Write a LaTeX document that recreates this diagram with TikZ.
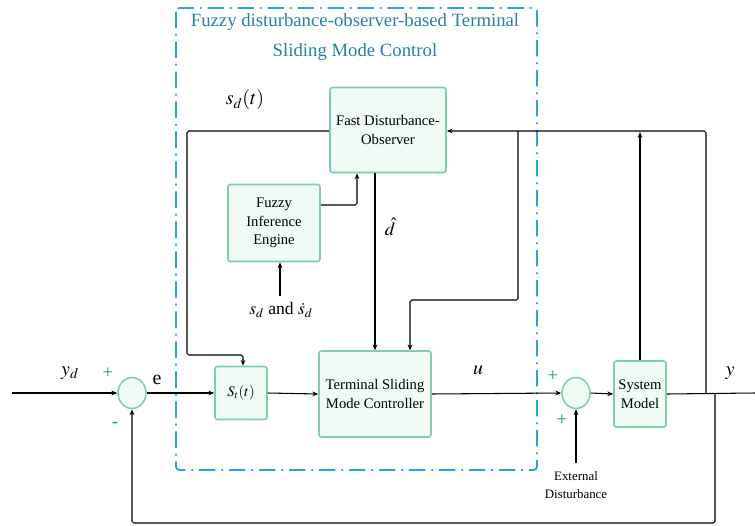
\documentclass[tikz,border=0pt]{standalone}
\usepackage{mathptmx}
\usepackage{fontspec}
\setmainfont{Liberation Serif}
\usetikzlibrary{arrows.meta,shapes.geometric}
\definecolor{boxfill}{HTML}{F1FBF6}
\definecolor{boxline}{HTML}{7DCFA8}
\definecolor{signgreen}{HTML}{10A060}
\definecolor{framecol}{HTML}{2AA4D8}
\definecolor{titlecol}{HTML}{2A7FA2}
\tikzset{
  blockbox/.style={draw=boxline, fill=boxfill, line width=1.3pt, rounded corners=2pt,
    align=center, inner sep=1pt, font=\fontsize{12.5}{16}\selectfont},
  sumnode/.style={ellipse, draw=boxline, fill=boxfill, line width=1.3pt,
    minimum width=28\pxu, minimum height=31\pxu, inner sep=0pt},
  signal/.style={line width=0.9pt, rounded corners=1.5pt},
  sign/.style={text=signgreen, font=\fontsize{16}{16}\selectfont},
}
\newlength{\pxu}
\setlength{\pxu}{0.03cm}
\begin{document}
\begin{tikzpicture}[x=0.03cm, y=-0.03cm, >={Stealth[length=5pt,width=4pt]}]
		\useasboundingbox (0,0) rectangle (755,525);
		% frame of the controller
		\draw [framecol, line width=1.6pt, rounded corners=3pt,
		  dash pattern=on 14pt off 5pt on 1.6pt off 5pt] (176,8) rectangle (537,470);
		\node [text=titlecol, align=center, font=\fontsize{16}{26}\selectfont] (title) at (355,37)
		  {Fuzzy disturbance-observer-based Terminal\\Sliding Mode Control};
		% blocks
		\node [blockbox, minimum width=116\pxu, minimum height=85\pxu] (fdo) at (388,130) {Fast Disturbance-\\Observer};
		\node [blockbox, minimum width=92\pxu, minimum height=77\pxu] (fie) at (274,223) {Fuzzy\\Inference\\Engine};
		\node [blockbox, minimum width=52\pxu, minimum height=53\pxu] (st) at (241,393) {$S_t(t)$};
		\node [blockbox, minimum width=112\pxu, minimum height=86\pxu] (tsmc) at (375,394) {Terminal Sliding\\Mode Controller};
		\node [blockbox, minimum width=52\pxu, minimum height=66\pxu] (sys) at (640,394) {System\\Model};
		\node [sumnode] (sum1) at (132,393) {};
		\node [sumnode] (sum2) at (576,393) {};
		% coordinates
		\coordinate (in) at (12,393);
		\coordinate (out) at (755,393);
		\coordinate (ya) at (706,393);
		\coordinate (yb) at (715,393);
		\coordinate (fb) at (518,131);
		\coordinate (ext) at (576,463);
		\coordinate (sds) at (280,296);
		% main path
		\draw [signal, ->] (in) to (sum1.west);
		\draw [signal, ->] (sum1.east) to (st.west);
		\draw [signal, ->] (st.east) to (tsmc.west);
		\draw [signal, ->] (tsmc.east) to (sum2.west);
		\draw [signal, ->] (sum2.east) to (sys.west);
		\draw [signal] (sys.east) to (out);
		% feedback paths
		\draw [signal, ->] (ya) |- (fdo.east |- 0,131);
		\draw [signal, ->] (sys.north) to (640,132);
		\draw [signal, ->] (fb) |- (410,300) to (tsmc.north -| 410,0);
		\draw [signal, ->] (fdo.west |- 0,131) -| (187,355) -| (st.north -| 243,0);
		\draw [signal, ->] (fie.east |- 0,205) -| (fdo.south -| 357,0);
		\draw [signal, ->] (fdo.south -| 375,0) to (tsmc.north -| 375,0);
		\draw [signal, ->] (sds) to (fie.south -| sds);
		\draw [signal, ->] (ext) to (sum2.south);
		\draw [signal, ->] (yb) |- (132,523) to (sum1.south);
		% labels
		\node [font=\fontsize{17}{17}\selectfont] (yd) at (70,373) {$y_d$};
		\node [sign] (p1) at (108,373) {+};
		\node [sign] (m1) at (115,425) {-};
		\node [font=\fontsize{17}{17}\selectfont] (e) at (157,380) {e};
		\node [font=\fontsize{17}{17}\selectfont] (sdt) at (245,100) {$s_d(t)$};
		\node [font=\fontsize{16}{16}\selectfont] (dh) at (390,227) {$\hat{d}$};
		\node [font=\fontsize{15}{15}\selectfont, anchor=north, inner sep=1pt] (sdl) at (281,301) {$s_d$ and $\dot{s}_d$};
		\node [font=\fontsize{17}{17}\selectfont] (u) at (478,370) {$u$};
		\node [sign] (p2) at (553,376) {+};
		\node [sign] (p3) at (562,420) {+};
		\node [font=\fontsize{17}{17}\selectfont] (y) at (730,373) {$y$};
		\node [align=center, font=\fontsize{11}{16}\selectfont] (extl) at (576,485) {External\\Disturbance};
\end{tikzpicture}
\end{document}
